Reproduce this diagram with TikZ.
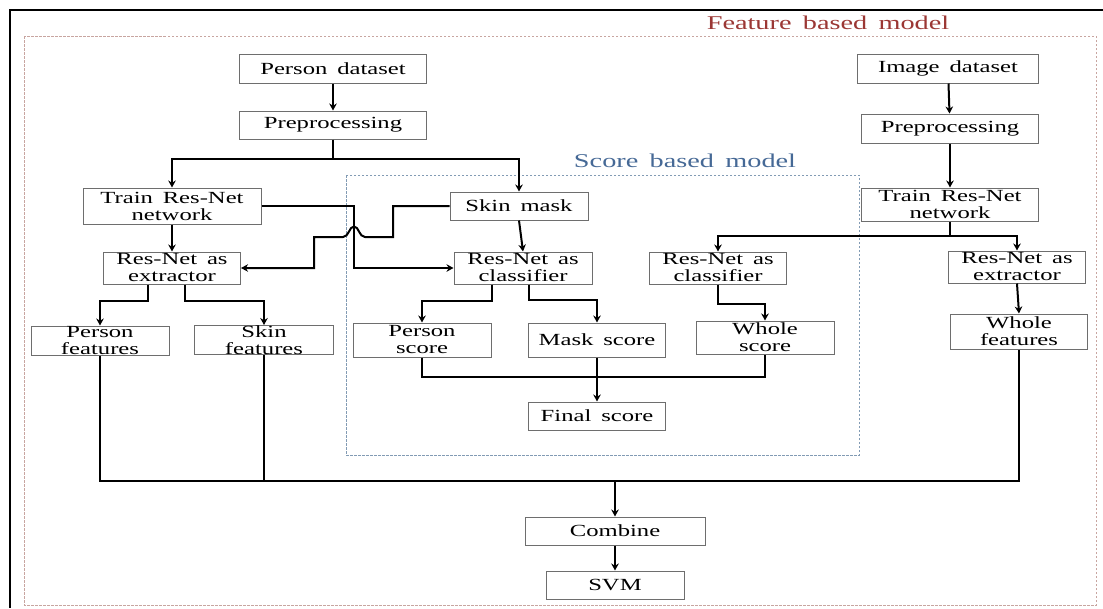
\documentclass[tikz,border=0pt]{standalone}
\usepackage{fontspec}
\setmainfont{Liberation Serif}[FakeStretch=1.45,WordSpace=1.6]
\usetikzlibrary{arrows.meta,calc}
\definecolor{boxgray}{RGB}{110,110,110}
\definecolor{featline}{RGB}{200,165,160}
\definecolor{scoreline}{RGB}{130,155,180}
\definecolor{feattitle}{RGB}{155,55,52}
\definecolor{scoretitle}{RGB}{70,105,150}
\tikzset{
  box/.style={draw=boxgray,line width=1pt,fill=white,inner sep=0pt,align=center,
    font=\fontsize{17}{17}\selectfont},
  bx/.style 2 args={box,minimum width=#1,minimum height=#2},
  conn/.style={line width=2pt,black},
  arr/.style={conn,-{Stealth[length=7pt,width=7.5pt]}},
  region/.style={line width=0.8pt,dash pattern=on 2.5pt off 1.5pt},
  title/.style={font=\fontsize{19.5}{20}\selectfont,inner sep=0pt}
}
\begin{document}
\begin{tikzpicture}[x=1pt,y=-1pt]
\useasboundingbox (0,0) rectangle (1103,608);
% outer frame (top and left visible)
\draw[line width=1.8pt] (1103,10) -- (10,10) -- (10,608);
% regions
\draw[region,featline] (24,36) rectangle (1096,605);
\draw[region,scoreline] (346,175) rectangle (859,455);
\node[title,text=feattitle] (tfeat) at (828,23) {Feature based model};
\node[title,text=scoretitle] (tscore) at (685,161) {Score based model};
% nodes
\node[bx={187pt}{29pt}] (pd) at (333,68.5) {Person dataset};
\node[bx={187pt}{28pt}] (pp1) at (333,125) {Preprocessing};
\node[bx={181pt}{29pt}] (id) at (948,68.5) {Image dataset};
\node[bx={177pt}{29pt}] (pp2) at (950,128.5) {Preprocessing};
\node[bx={178pt}{36pt}] (tr1) at (172,206) {Train Res-Net\\network};
\node[bx={138pt}{28pt}] (sm) at (519,206) {Skin mask};
\node[bx={177pt}{33pt}] (tr2) at (950,204.5) {Train Res-Net\\network};
\node[bx={137pt}{32pt}] (ex1) at (172,268) {Res-Net as\\extractor};
\node[bx={138pt}{32pt}] (cl1) at (523,268) {Res-Net as\\classifier};
\node[bx={137pt}{32pt}] (cl2) at (718,268) {Res-Net as\\classifier};
\node[bx={137pt}{32pt}] (ex2) at (1017,267) {Res-Net as\\extractor};
\node[bx={138pt}{29pt}] (pf) at (100,340.5) {Person\\features};
\node[bx={139pt}{28pt}] (sf) at (264,340) {Skin\\features};
\node[bx={138pt}{34pt}] (ps) at (422,340) {Person\\score};
\node[bx={137pt}{34pt}] (ms) at (597,340) {Mask score};
\node[bx={138pt}{33pt}] (ws) at (765,337.5) {Whole\\score};
\node[bx={137.5pt}{35pt}] (wf) at (1019,331.5) {Whole\\features};
\node[bx={137pt}{28pt}] (fs) at (597,416) {Final score};
\node[bx={180pt}{28pt}] (cb) at (615,531) {Combine};
\node[bx={138pt}{28pt}] (svm) at (615,585) {SVM};
% helper coordinates
\coordinate (s1) at (333,159);
\coordinate (s2) at (950,236);
\coordinate (j1) at (354,268);
\coordinate (m1) at (597,377);
\coordinate (bus) at (615,481);
% connectors
\draw[arr] (pd) -- (pp1);
\draw[conn] (pp1) -- (s1);
\draw[arr] (s1) -| (tr1);
\draw[arr] (s1) -| (sm);
\draw[arr] (tr1) -- (ex1);
\draw[arr] (tr1.east) -| (j1) -- (cl1.west);
\draw[arr] (sm.west) -- (393,206) -- (393,237) -- (365,237)
  .. controls (359,237) and (359,226.5) .. (354,226.5)
  .. controls (349,226.5) and (349,237) .. (343,237)
  -- (314,237) -- (314,268) -- (ex1.east);
\draw[arr] (sm.south) -- (cl1.north);
\draw[arr] (id) -- (pp2);
\draw[arr] (pp2) -- (tr2);
\draw[conn] (tr2) -- (s2);
\draw[arr] (s2) -| (cl2);
\draw[arr] (s2) -| (ex2);
\draw[arr] ([xshift=-24pt]ex1.south) -- ++(0,16) -| (pf.north);
\draw[arr] ([xshift=13pt]ex1.south) -- ++(0,16) -| (sf.north);
\draw[arr] ([xshift=-31pt]cl1.south) -- ++(0,16) -| (ps.north);
\draw[arr] ([xshift=6pt]cl1.south) -- ++(0,15) -| (ms.north);
\draw[arr] (cl2.south) -- ++(0,19) -| (ws.north);
\draw[arr] (ex2.south) -- (wf.north);
\draw[conn] (ps.south) |- (m1) -| (ws.south);
\draw[arr] (ms) -- (fs);
\draw[conn] (pf.south) |- (bus) -| (wf.south);
\draw[conn] (sf.south) -- (sf.south |- bus);
\draw[arr] (bus) -- (cb);
\draw[arr] (cb) -- (svm);
\end{tikzpicture}
\end{document}
